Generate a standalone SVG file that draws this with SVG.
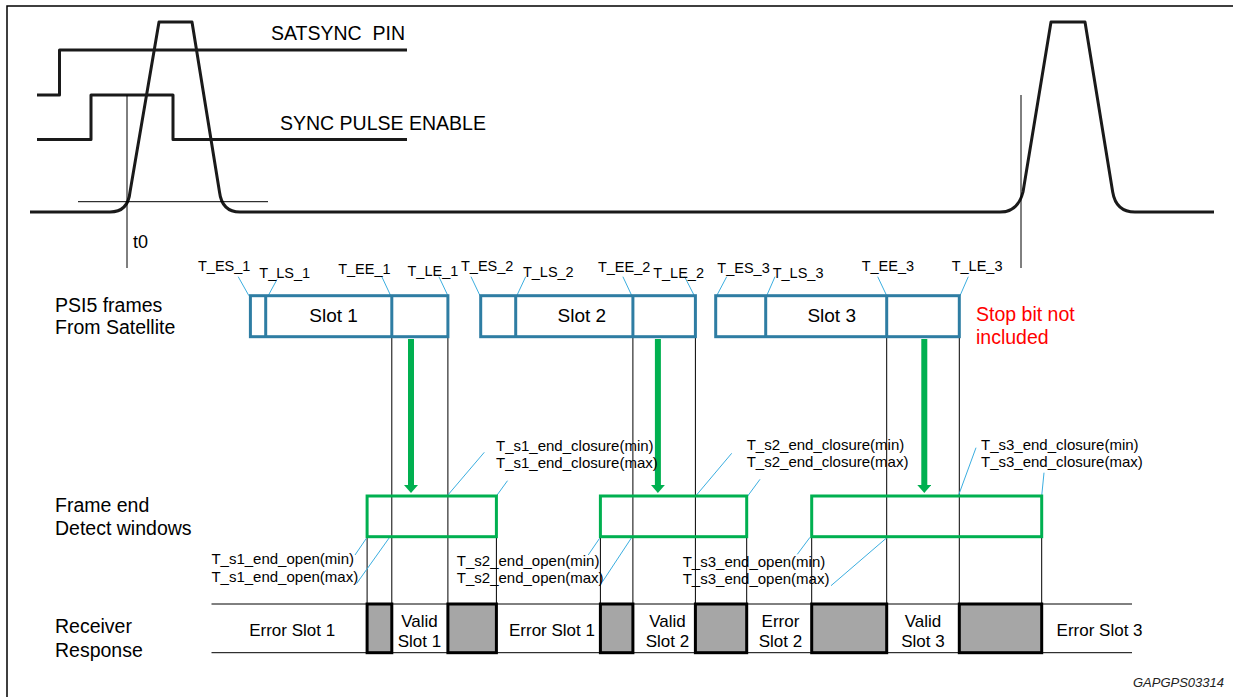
<svg xmlns="http://www.w3.org/2000/svg" width="1233" height="697" viewBox="0 0 1233 697">
<style>
text{font-family:"Liberation Sans",Arial,sans-serif;fill:#000}
.big{font-size:19.5px}
.slot{font-size:19px;text-anchor:middle}
.tl{font-size:14.5px}
.cl{font-size:15px}
.rs{font-size:17px;text-anchor:middle}
.wave{fill:none;stroke:#1a1a1a;stroke-width:3;stroke-linejoin:round}
.thin{fill:none;stroke:#000;stroke-width:1}
.frame{fill:none;stroke:#2E7DA3;stroke-width:3}
.win{fill:none;stroke:#00B050;stroke-width:3}
.lead{fill:none;stroke:#3BAEE0;stroke-width:1}
.grey{fill:#A6A6A6;stroke:#000;stroke-width:3}
.garrow{stroke:#00B050;stroke-width:6;fill:none}
</style>
<defs>
<marker id="ga" markerUnits="userSpaceOnUse" markerWidth="8" markerHeight="14" viewBox="0 0 8 14" refX="0" refY="7" orient="auto">
<path d="M0 0 L8 7 L0 14 Z" fill="#00B050"/>
</marker>
</defs>
<rect width="1233" height="697" fill="#fff"/>
<path d="M7 697 V6 H1233" fill="none" stroke="#000" stroke-width="1.5"/>

<g id="waveforms">
<path class="wave" d="M37 95 H59.5 V50 H407"/>
<path class="wave" d="M37 139.5 H91 V95 H173 V139.5 H407"/>
<path class="wave" d="M30 212 H110 Q128 212 130 192 L159 22 H192 L219.5 192 Q222 212 240 212 H1000 Q1018 212 1023 192 L1051 22 H1085 L1112.7 192 Q1116 212 1135 212 H1214"/>
<line class="thin" x1="127" y1="95" x2="127" y2="268"/>
<line class="thin" x1="78" y1="201.7" x2="268" y2="201.7"/>
<line class="thin" x1="1021" y1="95" x2="1021" y2="268"/>
<text class="big" x="271" y="40">SATSYNC&#160; PIN</text>
<text class="big" x="280" y="130">SYNC PULSE ENABLE</text>
<text x="133" y="248" font-size="18">t0</text>
</g>

<g id="row-labels">
<text class="big" x="55" y="311.5">PSI5 frames</text>
<text class="big" x="55" y="334">From Satellite</text>
<text class="big" x="55" y="512">Frame end</text>
<text class="big" x="55" y="535">Detect windows</text>
<text class="big" x="55" y="633">Receiver</text>
<text class="big" x="55" y="656.5">Response</text>
</g>

<g id="connectors">
<!-- vertical timing lines -->
<line class="thin" x1="391.8" y1="337" x2="391.8" y2="604"/>
<line class="thin" x1="447.9" y1="337" x2="447.9" y2="604"/>
<line class="thin" x1="367.1" y1="537" x2="367.1" y2="604"/>
<line class="thin" x1="496.4" y1="537" x2="496.4" y2="604"/>
<line class="thin" x1="632.9" y1="337" x2="632.9" y2="604"/>
<line class="thin" x1="695.4" y1="337" x2="695.4" y2="604"/>
<line class="thin" x1="600.4" y1="537" x2="600.4" y2="604"/>
<line class="thin" x1="746.7" y1="537" x2="746.7" y2="604"/>
<line class="thin" x1="886.7" y1="337" x2="886.7" y2="604"/>
<line class="thin" x1="959.3" y1="337" x2="959.3" y2="604"/>
<line class="thin" x1="811.7" y1="537" x2="811.7" y2="604"/>
<line class="thin" x1="1041.7" y1="537" x2="1041.7" y2="604"/>
<!-- green arrows -->
<line class="garrow" x1="411" y1="339" x2="411" y2="485" marker-end="url(#ga)"/>
<line class="garrow" x1="657.9" y1="339" x2="657.9" y2="485" marker-end="url(#ga)"/>
<line class="garrow" x1="924.3" y1="339" x2="924.3" y2="485" marker-end="url(#ga)"/>
<!-- leaders for slot edge labels -->
<line class="lead" x1="238.2" y1="276.7" x2="248.9" y2="295.7"/>
<line class="lead" x1="277.1" y1="279.3" x2="268.2" y2="295.7"/>
<line class="lead" x1="381.8" y1="276.7" x2="390.7" y2="295.7"/>
<line class="lead" x1="438.9" y1="276.7" x2="447.9" y2="295.7"/>
<line class="lead" x1="471" y1="276.7" x2="480" y2="295.7"/>
<line class="lead" x1="525.7" y1="276.7" x2="516.8" y2="295.7"/>
<line class="lead" x1="622.9" y1="276.7" x2="631.8" y2="295.7"/>
<line class="lead" x1="684.6" y1="276.7" x2="694.3" y2="295.7"/>
<line class="lead" x1="726.7" y1="276.7" x2="716.7" y2="295.7"/>
<line class="lead" x1="775" y1="276.7" x2="766.7" y2="295.7"/>
<line class="lead" x1="877.7" y1="276.7" x2="886.7" y2="295.7"/>
<line class="lead" x1="968.3" y1="276.7" x2="960" y2="295.7"/>
<!-- leaders for closure / open labels -->
<line class="lead" x1="484.3" y1="452.3" x2="447.9" y2="495"/>
<line class="lead" x1="507.5" y1="480.7" x2="496.4" y2="496"/>
<line class="lead" x1="355" y1="555" x2="366.4" y2="538.3"/>
<line class="lead" x1="356.8" y1="583.3" x2="389.6" y2="537.3"/>
<line class="lead" x1="731.7" y1="453.3" x2="695.7" y2="496"/>
<line class="lead" x1="760" y1="479.3" x2="747.7" y2="496"/>
<line class="lead" x1="588.2" y1="555" x2="599.6" y2="538.3"/>
<line class="lead" x1="602.5" y1="581.7" x2="631.8" y2="537.3"/>
<line class="lead" x1="976" y1="447.7" x2="958.3" y2="496"/>
<line class="lead" x1="1044" y1="472.7" x2="1041.7" y2="496"/>
<line class="lead" x1="797.3" y1="554.3" x2="810" y2="537.3"/>
<line class="lead" x1="831" y1="585.7" x2="887.3" y2="537.3"/>
</g>

<g id="slot1-frame">
<rect class="frame" x="250.4" y="295.7" width="197.5" height="41"/>
<line class="frame" x1="265.7" y1="295.7" x2="265.7" y2="336.7"/>
<line class="frame" x1="391.8" y1="295.7" x2="391.8" y2="336.7"/>
<text class="slot" x="333.6" y="322">Slot 1</text>
</g>
<g id="slot2-frame">
<rect class="frame" x="480.7" y="295.7" width="214.7" height="41"/>
<line class="frame" x1="515.7" y1="295.7" x2="515.7" y2="336.7"/>
<line class="frame" x1="632.9" y1="295.7" x2="632.9" y2="336.7"/>
<text class="slot" x="581.8" y="322">Slot 2</text>
</g>
<g id="slot3-frame">
<rect class="frame" x="715.7" y="295.7" width="243.6" height="41"/>
<line class="frame" x1="765.7" y1="295.7" x2="765.7" y2="336.7"/>
<line class="frame" x1="886.7" y1="295.7" x2="886.7" y2="336.7"/>
<text class="slot" x="831.7" y="322">Slot 3</text>
</g>
<g id="stop-bit-note">
<text class="big" x="976" y="321" style="fill:#FF0000">Stop bit not</text>
<text class="big" x="976" y="344" style="fill:#FF0000">included</text>
</g>

<g id="edge-labels">
<text class="tl" x="198" y="270.7">T_ES_1</text>
<text class="tl" x="259.3" y="278.3">T_LS_1</text>
<text class="tl" x="338.2" y="274">T_EE_1</text>
<text class="tl" x="407.5" y="276">T_LE_1</text>
<text class="tl" x="461" y="270.7">T_ES_2</text>
<text class="tl" x="522.9" y="276.7">T_LS_2</text>
<text class="tl" x="597.9" y="271.7">T_EE_2</text>
<text class="tl" x="653.2" y="278.3">T_LE_2</text>
<text class="tl" x="717.3" y="272.7">T_ES_3</text>
<text class="tl" x="772.7" y="278.3">T_LS_3</text>
<text class="tl" x="861.7" y="270.7">T_EE_3</text>
<text class="tl" x="951.7" y="270.7">T_LE_3</text>
</g>

<g id="window1">
<rect class="win" x="367.1" y="496" width="129.3" height="40.7"/>
</g>
<g id="window2">
<rect class="win" x="600.4" y="496" width="146.3" height="40.7"/>
</g>
<g id="window3">
<rect class="win" x="811.7" y="496" width="230" height="40.7"/>
</g>

<g id="window-labels">
<text class="cl" x="496" y="450.5">T_s1_end_closure(min)</text>
<text class="cl" x="496" y="468">T_s1_end_closure(max)</text>
<text class="cl" x="746.7" y="449.5">T_s2_end_closure(min)</text>
<text class="cl" x="746.7" y="467">T_s2_end_closure(max)</text>
<text class="cl" x="981" y="449.5">T_s3_end_closure(min)</text>
<text class="cl" x="981" y="467">T_s3_end_closure(max)</text>
<text class="cl" x="211.4" y="564">T_s1_end_open(min)</text>
<text class="cl" x="211.4" y="581.7">T_s1_end_open(max)</text>
<text class="cl" x="456.8" y="566">T_s2_end_open(min)</text>
<text class="cl" x="456.8" y="583.3">T_s2_end_open(max)</text>
<text class="cl" x="682.7" y="566.7">T_s3_end_open(min)</text>
<text class="cl" x="682.7" y="584">T_s3_end_open(max)</text>
</g>

<g id="receiver-response">
<line class="thin" x1="211.5" y1="604" x2="1132" y2="604"/>
<line class="thin" x1="211.5" y1="652.7" x2="1132" y2="652.7"/>
<rect class="grey" x="367.1" y="604" width="24.7" height="48.7"/>
<rect class="grey" x="447.9" y="604" width="48.5" height="48.7"/>
<rect class="grey" x="600.4" y="604" width="32.5" height="48.7"/>
<rect class="grey" x="695.4" y="604" width="51.3" height="48.7"/>
<rect class="grey" x="811.7" y="604" width="75" height="48.7"/>
<rect class="grey" x="959.3" y="604" width="82.4" height="48.7"/>
<text class="rs" x="292.2" y="636">Error Slot 1</text>
<text class="rs" x="419.5" y="626.7">Valid</text>
<text class="rs" x="419.5" y="646.5">Slot 1</text>
<text class="rs" x="552" y="636">Error Slot 1</text>
<text class="rs" x="667.4" y="626.7">Valid</text>
<text class="rs" x="667.4" y="646.5">Slot 2</text>
<text class="rs" x="780.5" y="626.7">Error</text>
<text class="rs" x="780.5" y="646.5">Slot 2</text>
<text class="rs" x="923" y="626.7">Valid</text>
<text class="rs" x="923" y="646.5">Slot 3</text>
<text class="rs" x="1099.6" y="635.5">Error Slot 3</text>
</g>

<text x="1224" y="686.7" font-size="13" font-style="italic" text-anchor="end" style="fill:#222">GAPGPS03314</text>
</svg>
